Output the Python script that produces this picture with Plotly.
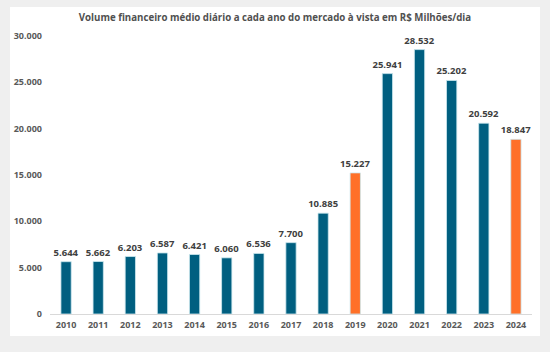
import plotly.graph_objects as go

years = ["2010", "2011", "2012", "2013", "2014", "2015", "2016", "2017",
         "2018", "2019", "2020", "2021", "2022", "2023", "2024"]
volumes = [5644, 5662, 6203, 6587, 6421, 6060, 6536, 7700,
           10885, 15227, 25941, 28532, 25202, 20592, 18847]
highlight_years = ["2019", "2024"]
title_text = "Volume financeiro médio diário a cada ano do mercado à vista em R$ Milhões/dia"
y_ticks = [0, 5000, 10000, 15000, 20000, 25000, 30000]

TEAL = "#005f80"
ORANGE = "#ff7028"
colors = [ORANGE if y in highlight_years else TEAL for y in years]

W, H = 550, 352
L, R, T, B = 50, 532, 36, 314  # plot area pixels

def px_x(x):
    return (x - L) / (R - L)

def px_y(y):
    return (B - y) / (B - T)

fig = go.Figure()
fig.add_trace(go.Bar(
    x=years, y=volumes,
    marker=dict(color=colors, line=dict(color="#cde8ef", width=0.8)),
    texttemplate="%{y:,}", textposition="outside", constraintext="none",
    textfont=dict(family="Open Sans", size=9.5, color="#404040", weight="bold"),
    cliponaxis=False,
    hoverinfo="skip",
))

fig.update_layout(
    width=W, height=H,
    margin=dict(l=L, r=W - R, t=T, b=H - B, pad=0),
    paper_bgcolor="#efefef",
    plot_bgcolor="rgba(0,0,0,0)",
    separators=",.",
    bargap=0.68,
    showlegend=False,
    font=dict(family="Open Sans", color="#595959"),
    title=dict(text=title_text, x=0.5, xanchor="center", y=1 - 18 / H, yanchor="middle",
               font=dict(family="Open Sans", size=9.7, color="#505050", weight="bold")),
    shapes=[dict(type="rect", xref="paper", yref="paper",
                 x0=px_x(10), x1=px_x(540), y0=px_y(336), y1=px_y(7),
                 fillcolor="white", line=dict(width=0), layer="below")],
    xaxis=dict(showgrid=False, showline=True, linecolor="#d9d9d9", linewidth=1,
               ticks="", tickfont=dict(size=9, color="#595959", family="Open Sans", weight="bold"),
               ticklabelstandoff=2, fixedrange=True),
    yaxis=dict(range=[0, 30000], tickvals=y_ticks, tickformat=",d",
               showgrid=False, zeroline=False, showline=False, ticks="",
               tickfont=dict(size=9, color="#595959", family="Open Sans", weight="bold"),
               ticklabelstandoff=7, fixedrange=True),
)

fig.write_html("out.html")
